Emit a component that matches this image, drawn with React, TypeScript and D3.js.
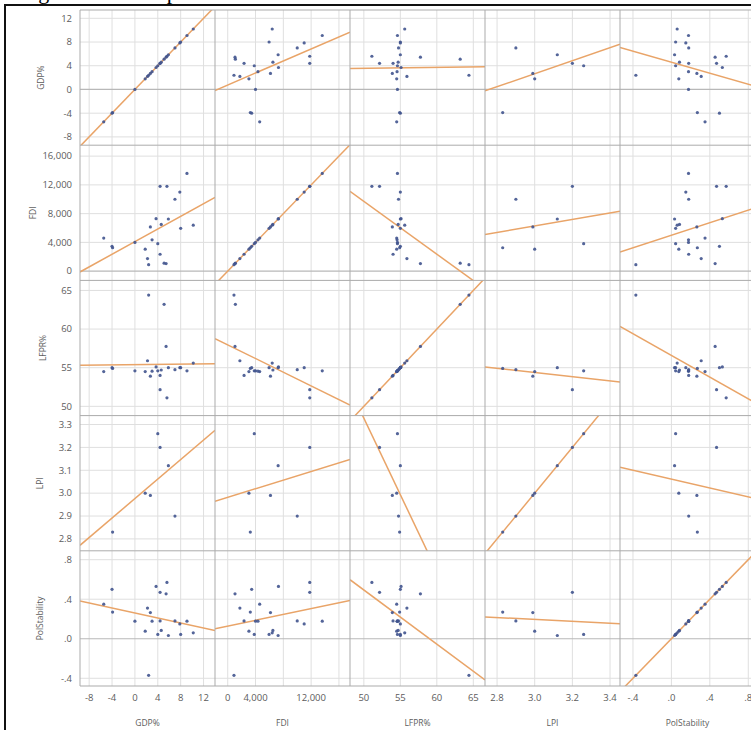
import React from "react";
import * as d3 from "d3";

// ---- data (one entry per observation; null = missing) ----
const variables = ["GDP%", "FDI", "LFPR%", "LPI", "PolStability"];
const gdp = [-5.45, -4.0, -3.9, 0.0, 1.8, 2.2, 2.4, 2.7, 3.0, 3.7, 4.0, 4.4, 4.4, 4.6, 5.1, 5.45, 5.6, 5.85, 7.0, 7.85, 8.0, 9.1, 10.2];
const fdi = [4600, 3450, 3250, 4000, 3050, 1750, 900, 6150, 4350, 7300, 3820, 11800, 2350, 6500, 1100, 1050, 11800, 7250, 10000, 11000, 5950, 13600, 6400];
const lfpr = [54.5, 55.0, 54.9, 54.6, 54.5, 55.9, 64.4, 53.9, 54.55, 55.1, 54.6, 52.15, 54.0, 54.7, 63.2, 57.75, 51.1, 55.0, 54.75, 55.0, 55.0, 54.6, 55.6];
const lpi = [null, null, 2.83, null, 3.0, null, null, 2.99, null, null, 3.26, 3.2, null, null, null, null, null, 3.12, 2.9, null, null, null, null];
const pol = [0.35, 0.5, 0.27, 0.178, 0.077, 0.31, -0.37, 0.265, 0.178, 0.53, 0.044, 0.47, 0.18, 0.084, null, 0.455, 0.57, 0.033, 0.18, 0.15, 0.044, 0.178, 0.06];
const series: (number | null)[][] = [gdp, fdi, lfpr, lpi, pol];

// axis domains: when a variable is on x, and when on y
const xDomains = [[-9.6, 14.0], [-1830, 17590], [48.1, 66.6], [2.736, 3.453], [-0.535, 0.87]];
const yDomains = [[-9.4, 13.4], [-1290, 17520], [48.8, 66.3], [2.748, 3.339], [-0.478, 0.89]];

// ticks
const gdpTicks = [-8, -4, 0, 4, 8, 12];
const fdiTicks = [0, 4000, 8000, 12000, 16000];
const fdiXLabelTicks = [0, 4000, 12000];
const lfprTicks = [50, 55, 60, 65];
const lpiXTicks = [2.8, 3.0, 3.2, 3.4];
const lpiYTicks = [2.8, 2.9, 3.0, 3.1, 3.2, 3.3];
const polTicks = [-0.4, 0, 0.4, 0.8];

const xGridTicks = [gdpTicks, fdiTicks, lfprTicks, lpiXTicks, polTicks];
const xLabelTicks = [gdpTicks, fdiXLabelTicks, lfprTicks, lpiXTicks, polTicks];
const yGridTicks = [gdpTicks, fdiTicks, lfprTicks, lpiYTicks, polTicks];

const fmtPol = (v: number) => {
  const s = Math.abs(v).toFixed(1).replace(/^0/, "");
  return (v < 0 ? "-" : "") + s;
};
const formats: ((v: number) => string)[] = [
  (v) => (v < 0 ? "-" : "") + Math.abs(v),
  (v) => d3.format(",")(v),
  (v) => String(v),
  (v) => d3.format(".1f")(v),
  fmtPol,
];

// ---- layout ----
const W = 751;
const H = 730;
const left = 80;
const top = 10;
const pw = 135;
const ph = 135.2;
const n = variables.length;
const yTitleX = [41, 33, 43, 40, 40];

const FONT = "'Open Sans', 'DejaVu Sans', sans-serif";
const tickColor = "#5c5c5c";
const gridColor = "#dfdfdf";
const zeroColor = "#b8b8b8";
const borderColor = "#ababab";
const lineColor = "#e9a468";
const dotColor = "#41548e";

function fit(xv: (number | null)[], yv: (number | null)[]) {
  const pts: [number, number][] = [];
  xv.forEach((x, i) => {
    const y = yv[i];
    if (x != null && y != null) pts.push([x, y]);
  });
  const mx = d3.mean(pts, (p) => p[0])!;
  const my = d3.mean(pts, (p) => p[1])!;
  let sxy = 0;
  let sxx = 0;
  pts.forEach(([x, y]) => {
    sxy += (x - mx) * (y - my);
    sxx += (x - mx) * (x - mx);
  });
  const b = sxx === 0 ? 0 : sxy / sxx;
  return { b, a: my - b * mx, pts };
}

export default function App() {
  const panels: React.ReactNode[] = [];
  for (let r = 0; r < n; r++) {
    for (let c = 0; c < n; c++) {
      const x0 = left + c * pw;
      const y0 = top + r * ph;
      const xs = d3.scaleLinear().domain(xDomains[c]).range([x0, x0 + pw]);
      const ys = d3.scaleLinear().domain(yDomains[r]).range([y0 + ph, y0]);
      const { a, b, pts } = fit(series[c], series[r]);
      const [d0, d1] = xDomains[c];
      const line = d3.line<[number, number]>().x((d) => xs(d[0])).y((d) => ys(d[1]));
      const id = `clip-${r}-${c}`;
      panels.push(
        <g key={id}>
          <clipPath id={id}>
            <rect x={x0} y={y0} width={pw} height={ph} />
          </clipPath>
          <g clipPath={`url(#${id})`}>
            {xGridTicks[c].map((t) => (
              <line key={"vx" + t} x1={xs(t)} x2={xs(t)} y1={y0} y2={y0 + ph} stroke={gridColor} strokeWidth={1} />
            ))}
            {yGridTicks[r].map((t) => (
              <line key={"hy" + t} x1={x0} x2={x0 + pw} y1={ys(t)} y2={ys(t)} stroke={t === 0 ? zeroColor : gridColor} strokeWidth={t === 0 ? 1.2 : 1} />
            ))}
            <path d={line([[d0, a + b * d0], [d1, a + b * d1]]) || ""} stroke={lineColor} strokeWidth={1.5} fill="none" />
            {pts.map((p, i) => (
              <circle key={i} cx={xs(p[0])} cy={ys(p[1])} r={1.6} fill={dotColor} opacity={0.9} />
            ))}
          </g>
        </g>
      );
    }
  }

  const borders: React.ReactNode[] = [];
  for (let c = 0; c <= n; c++) {
    const x = left + c * pw;
    borders.push(<line key={"bv" + c} x1={x} x2={x} y1={top} y2={top + n * ph} stroke={borderColor} strokeWidth={1} />);
  }
  for (let r = 0; r <= n; r++) {
    const y = top + r * ph;
    borders.push(<line key={"bh" + r} x1={left} x2={left + n * pw} y1={y} y2={y} stroke={borderColor} strokeWidth={1} />);
  }

  const yTicks: React.ReactNode[] = [];
  for (let r = 0; r < n; r++) {
    const y0 = top + r * ph;
    const ys = d3.scaleLinear().domain(yDomains[r]).range([y0 + ph, y0]);
    yGridTicks[r].forEach((t) => {
      yTicks.push(
        <text key={`yt${r}-${t}`} x={72} y={ys(t)} dy="0.35em" textAnchor="end" fontSize={9.5} fill={tickColor} fontFamily={FONT}>
          {formats[r](t)}
        </text>
      );
    });
    yTicks.push(
      <text key={`ytitle${r}`} transform={`translate(${yTitleX[r]},${y0 + ph / 2}) rotate(-90)`} textAnchor="middle" dy="0.35em" fontSize={8.5} fill={tickColor} fontFamily={FONT}>
        {variables[r]}
      </text>
    );
  }

  const xTicks: React.ReactNode[] = [];
  for (let c = 0; c < n; c++) {
    const x0 = left + c * pw;
    const xs = d3.scaleLinear().domain(xDomains[c]).range([x0, x0 + pw]);
    xLabelTicks[c].forEach((t) => {
      xTicks.push(
        <text key={`xt${c}-${t}`} x={xs(t)} y={698} dy="0.35em" textAnchor="middle" fontSize={9.5} fill={tickColor} fontFamily={FONT}>
          {formats[c](t)}
        </text>
      );
    });
    xTicks.push(
      <text key={`xtitle${c}`} x={x0 + pw / 2} y={723} dy="0.35em" textAnchor="middle" fontSize={8.5} fill={tickColor} fontFamily={FONT}>
        {variables[c]}
      </text>
    );
  }

  return (
    <svg width={W} height={H} style={{ position: "absolute", left: 0, top: 0, background: "#fff" }}>
      <rect x={0} y={0} width={W} height={H} fill="#fff" />
      <text x={20} y={-1} fontSize={22} fontFamily="'Liberation Serif', serif" fill="#000">
        Figure 4: Scatterplot matrix
      </text>
      {panels}
      {borders}
      {yTicks}
      {xTicks}
      <line x1={5} y1={5} x2={W} y2={5} stroke="#111" strokeWidth={2} />
      <line x1={5} y1={4} x2={5} y2={H} stroke="#111" strokeWidth={2} />
    </svg>
  );
}
